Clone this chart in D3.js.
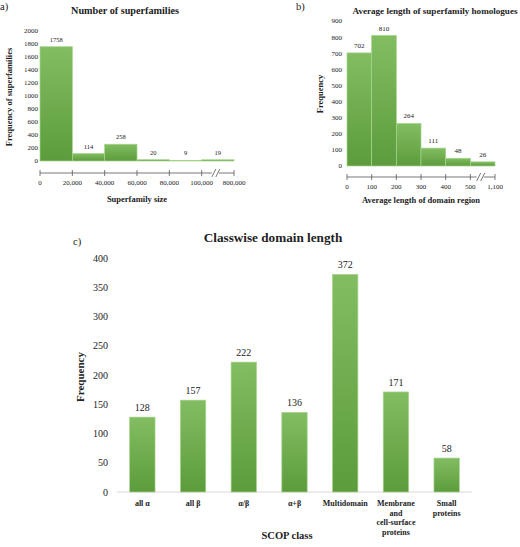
<!DOCTYPE html>
<html><head><meta charset="utf-8">
<script src="https://cdn.jsdelivr.net/npm/d3@7"></script>
<style>body{margin:0;background:#fff}svg{display:block}text{font-family:"Liberation Serif","Times New Roman",serif;fill:#222}</style>
</head><body>
<script>
// Panel a
const aValues = [1758, 114, 258, 20, 9, 19];
const aTicks = ["0", "20,000", "40,000", "60,000", "80,000", "100,000", "800,000"];
const aYTicks = [0, 200, 400, 600, 800, 1000, 1200, 1400, 1600, 1800, 2000];
// Panel b
const bValues = [702, 810, 264, 111, 48, 26];
const bTicks = ["0", "100", "200", "300", "400", "500", "1,100"];
const bYTicks = [0, 100, 200, 300, 400, 500, 600, 700, 800, 900];
// Panel c
const cCategories = ["all α", "all β", "α/β", "α+β", "Multidomain", "Membrane and cell-surface proteins", "Small proteins"];
const cLabelLines = [["all α"], ["all β"], ["α/β"], ["α+β"], ["Multidomain"], ["Membrane", "and", "cell-surface", "proteins"], ["Small", "proteins"]];
const cValues = [128, 157, 222, 136, 372, 171, 58];
const cYTicks = [0, 50, 100, 150, 200, 250, 300, 350, 400];

const W = 520, H = 547;
const svg = d3.select("body").append("svg").attr("width", W).attr("height", H);
const defs = svg.append("defs");
const grad = defs.append("linearGradient").attr("id", "g").attr("x1", 0).attr("y1", 0).attr("x2", 0).attr("y2", 1);
grad.append("stop").attr("offset", 0).attr("stop-color", "#82bd62");
grad.append("stop").attr("offset", 1).attr("stop-color", "#5c9c3c");

function histPanel(opt) {
  const g = svg.append("g");
  const n = opt.values.length;
  const x = d3.scaleLinear().domain([0, n]).range([opt.x0, opt.x1]);
  const y = d3.scaleLinear().domain([0, opt.yMax]).range([opt.yBase, opt.yTop]);
  g.selectAll(".yt").data(opt.yTicks).join("text")
    .attr("x", opt.yLabelX).attr("y", d => y(d)).attr("dy", "0.35em")
    .attr("text-anchor", "end").attr("font-size", opt.tickFs).text(d => d);
  g.selectAll(".bar").data(opt.values).join("rect")
    .attr("x", (d, i) => x(i)).attr("width", (d, i) => x(i + 1) - x(i))
    .attr("y", d => y(d)).attr("height", d => y(0) - y(d))
    .attr("fill", "url(#g)").attr("stroke", "#a6d38c").attr("stroke-width", 0.7);
  g.selectAll(".vl").data(opt.values).join("text")
    .attr("x", (d, i) => (x(i) + x(i + 1)) / 2).attr("y", d => y(d) - 5)
    .attr("text-anchor", "middle").attr("font-size", opt.valFs).text(d => d);
  const ay = opt.axisY;
  const tickPos = d3.range(n + 1).map(i => x(i));
  g.append("line").attr("x1", tickPos[0]).attr("x2", tickPos[n]).attr("y1", ay).attr("y2", ay)
    .attr("stroke", "#555").attr("stroke-width", 0.8);
  g.selectAll(".tk").data(tickPos).join("line")
    .attr("x1", d => d).attr("x2", d => d).attr("y1", ay - 3).attr("y2", ay + 3)
    .attr("stroke", "#555").attr("stroke-width", 0.8);
  const bx = (x(n - 1) + x(n)) / 2 - 3;
  g.append("rect").attr("x", bx - 3).attr("y", ay - 2).attr("width", 7).attr("height", 4).attr("fill", "#fff");
  [0, 4].forEach(o => g.append("line").attr("x1", bx - 3 + o).attr("x2", bx + 1 + o)
    .attr("y1", ay + 4).attr("y2", ay - 4).attr("stroke", "#555").attr("stroke-width", 0.8));
  g.selectAll(".xl").data(opt.ticks).join("text")
    .attr("x", (d, i) => tickPos[i]).attr("y", ay + 12)
    .attr("text-anchor", "middle").attr("font-size", opt.tickFs).text(d => d);
  g.append("text").attr("x", opt.titleX).attr("y", opt.titleY).attr("text-anchor", "middle")
    .attr("font-size", opt.titleFs).attr("font-weight", "bold").text(opt.title);
  g.append("text").attr("x", (opt.x0 + opt.x1) / 2).attr("y", opt.xTitleY).attr("text-anchor", "middle")
    .attr("font-size", 8.5).attr("font-weight", "bold").text(opt.xTitle);
  g.append("text").attr("transform", `translate(${opt.yTitleX},${opt.yTitleY}) rotate(-90)`)
    .attr("text-anchor", "middle").attr("font-size", opt.yTitleFs).attr("font-weight", "bold").text(opt.yTitle);
  g.append("text").attr("x", opt.tagX).attr("y", 10).attr("font-size", 10.5).text(opt.tag);
}

histPanel({
  values: aValues, ticks: aTicks, yTicks: aYTicks, yMax: 2000,
  x0: 40, x1: 234, yBase: 161, yTop: 31, yLabelX: 38, axisY: 173,
  tickFs: 7, valFs: 6.5, title: "Number of superfamilies", titleX: 125, titleY: 14, titleFs: 10.2,
  xTitle: "Superfamily size", xTitleY: 202, yTitle: "Frequency of superfamilies", yTitleX: 12, yTitleY: 97, yTitleFs: 8.5,
  tag: "a)", tagX: 0
});
histPanel({
  values: bValues, ticks: bTicks, yTicks: bYTicks, yMax: 900,
  x0: 347, x1: 495, yBase: 166, yTop: 21, yLabelX: 342, axisY: 177,
  tickFs: 7, valFs: 7, title: "Average length of superfamily homologues", titleX: 435, titleY: 14, titleFs: 9.1,
  xTitle: "Average length of domain region", xTitleY: 203, yTitle: "Frequency", yTitleX: 323, yTitleY: 94, yTitleFs: 8.5,
  tag: "b)", tagX: 296
});

// Panel c
const gc = svg.append("g");
const xc = d3.scaleBand().domain(cCategories).range([117, 472]).paddingInner(0.5).paddingOuter(0.25);
const yc = d3.scaleLinear().domain([0, 400]).range([492, 258]);
gc.selectAll(".yt").data(cYTicks).join("text")
  .attr("x", 108).attr("y", d => yc(d)).attr("dy", "0.35em")
  .attr("text-anchor", "end").attr("font-size", 10).text(d => d);
gc.append("line").attr("x1", 117).attr("x2", 472).attr("y1", yc(0)).attr("y2", yc(0))
  .attr("stroke", "#d9d9d9").attr("stroke-width", 1);
gc.selectAll(".bar").data(cValues).join("rect")
  .attr("x", (d, i) => xc(cCategories[i])).attr("width", xc.bandwidth())
  .attr("y", d => yc(d)).attr("height", d => yc(0) - yc(d))
  .attr("fill", "url(#g)").attr("stroke", "#a6d38c").attr("stroke-width", 0.7);
gc.selectAll(".vl").data(cValues).join("text")
  .attr("x", (d, i) => xc(cCategories[i]) + xc.bandwidth() / 2).attr("y", d => yc(d) - 6)
  .attr("text-anchor", "middle").attr("font-size", 10).text(d => d);
cLabelLines.forEach((lines, i) => {
  const cx = xc(cCategories[i]) + xc.bandwidth() / 2;
  const t = gc.append("text").attr("x", cx).attr("y", 506)
    .attr("text-anchor", "middle").attr("font-size", 8).attr("font-weight", "bold");
  lines.forEach((l, j) => t.append("tspan").attr("x", cx).attr("dy", j === 0 ? 0 : 9.5).text(l));
});
gc.append("text").attr("x", 273).attr("y", 242).attr("text-anchor", "middle")
  .attr("font-size", 13.2).attr("font-weight", "bold").text("Classwise domain length");
gc.append("text").attr("x", 73).attr("y", 245).attr("font-size", 10.5).text("c)");
gc.append("text").attr("x", 287).attr("y", 539).attr("text-anchor", "middle")
  .attr("font-size", 10.5).attr("font-weight", "bold").text("SCOP class");
gc.append("text").attr("transform", "translate(84,377) rotate(-90)")
  .attr("text-anchor", "middle").attr("font-size", 11).attr("font-weight", "bold").text("Frequency");
</script>
</body></html>
